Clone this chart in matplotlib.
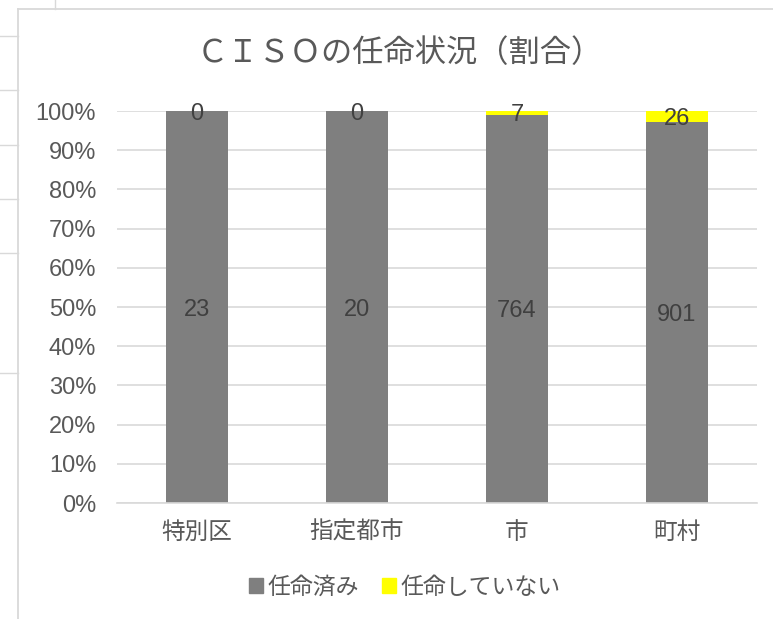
import matplotlib
matplotlib.use("Agg")
import matplotlib.pyplot as plt
from matplotlib.lines import Line2D
from matplotlib.patches import Rectangle
import numpy as np

plt.rcParams['font.family'] = ['Noto Sans CJK JP', 'DejaVu Sans']

categories = ['特別区', '指定都市', '市', '町村']
appointed = [23, 20, 764, 901]
not_appointed = [0, 0, 7, 26]
series_names = ['任命済み', '任命していない']
title = 'ＣＩＳＯの任命状況（割合）'
ytick_labels = ['0%', '10%', '20%', '30%', '40%', '50%', '60%', '70%', '80%', '90%', '100%']

GRAY = '#7f7f7f'
YELLOW = '#ffff00'
TEXT = '#595959'
GRID = '#d9d9d9'

W, H = 773, 619
fig = plt.figure(figsize=(W / 100, H / 100), dpi=100)

# background spreadsheet lines & chart frame
for yy in [36, 90, 145, 199, 253, 373]:
    fig.add_artist(Line2D([0, 18 / W], [1 - yy / H] * 2, color=GRID, lw=1))
fig.add_artist(Line2D([55 / W] * 2, [1, 1 - 9 / H], color=GRID, lw=1))
fig.add_artist(Line2D([18 / W, 1], [1 - 9 / H] * 2, color=GRID, lw=1.3))
fig.add_artist(Line2D([18 / W] * 2, [0, 1 - 9 / H], color=GRID, lw=1.3))

ax = fig.add_axes([117 / W, 1 - 503 / H, 640 / W, (503 - 111) / H])

app = np.array(appointed, dtype=float)
nap = np.array(not_appointed, dtype=float)
tot = app + nap
p_app = app / tot * 100
p_nap = nap / tot * 100
x = np.arange(len(categories))
bw = 0.39
ax.bar(x, p_app, width=bw, color=GRAY, label=series_names[0], zorder=2)
ax.bar(x, p_nap, width=bw, bottom=p_app, color=YELLOW, label=series_names[1], zorder=2)

for i in range(len(categories)):
    ax.text(x[i], p_app[i] / 2, f'{appointed[i]}', ha='center', va='center_baseline',
            fontsize=17, color='#404040', family='Liberation Sans', zorder=3)
    ax.text(x[i], p_app[i] + p_nap[i] / 2, f'{not_appointed[i]}', ha='center', va='center_baseline',
            fontsize=17, color='#404040', family='Liberation Sans', zorder=3)

ax.set_xlim(-0.5, len(categories) - 0.5)
ax.set_ylim(0, 100)
ax.set_yticks(np.arange(0, 101, 10))
ax.set_yticklabels(ytick_labels, family='Liberation Sans', fontsize=17, color=TEXT)
ax.set_xticks(x)
ax.set_xticklabels(categories, fontsize=17, color=TEXT)
ax.tick_params(axis='both', length=0)
ax.tick_params(axis='y', pad=15)
ax.tick_params(axis='x', pad=13)
ax.grid(axis='y', color=GRID, lw=1.2, zorder=0)
for s in ['top', 'right', 'left']:
    ax.spines[s].set_visible(False)
ax.spines['bottom'].set_color(GRID)
ax.spines['bottom'].set_linewidth(1.2)

fig.text(400 / W, 1 - 53 / H, title, ha='center', va='center', fontsize=22.5, color=TEXT)

handles = [Rectangle((0, 0), 1, 1, color=GRAY), Rectangle((0, 0), 1, 1, color=YELLOW)]
fig.legend(handles, series_names, loc='center', bbox_to_anchor=(405 / W, 1 - 587 / H),
           ncol=2, frameon=False, fontsize=16.5, labelcolor=TEXT,
           handlelength=0.6, handleheight=0.6, handletextpad=0.2, columnspacing=1.0)

fig.savefig('out.png', dpi=100)
